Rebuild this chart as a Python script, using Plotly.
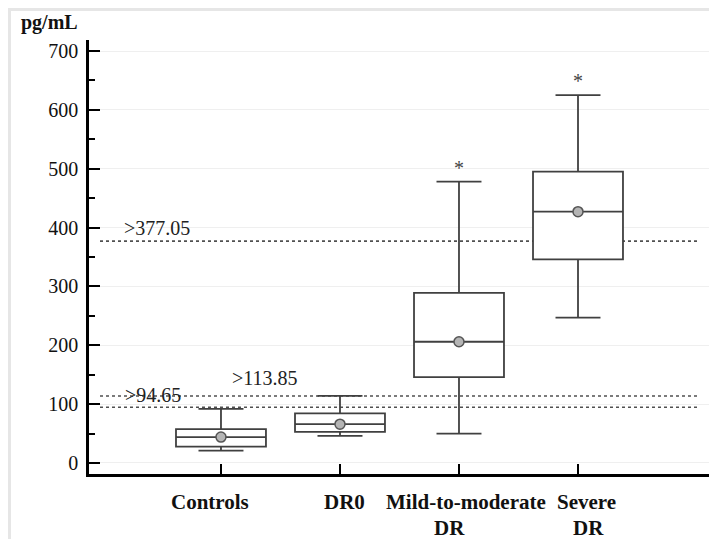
import plotly.graph_objects as go

categories = ["Controls", "DR0", "Mild-to-moderate<br>DR", "Severe<br>DR"]
q1 = [27.7, 53, 146, 346]
median = [44, 66, 206, 427]
q3 = [57.7, 84.4, 289, 495]
lower_whisker = [21, 46, 50, 247]
upper_whisker = [92, 114, 478, 625]
means = [44, 66, 206, 427]
significant = [False, False, True, True]
thresholds = [377.05, 113.85, 94.65]
threshold_labels = [">377.05", ">113.85", ">94.65"]
y_ticks = [0, 100, 200, 300, 400, 500, 600, 700]

# the page body has an 8px margin, so the figure is 8px smaller than the window
OFF = 8
W, H = 717 - OFF, 539 - OFF
L, R, T, B = 89 - OFF, 5, 40 - OFF, 65
pw, ph = W - L - R, H - T - B
SERIF = "Liberation Serif, Times New Roman, serif"

def px_x(px):  # window pixel -> paper
    return (px - OFF - L) / pw

def px_y(py):
    return (H - B - (py - OFF)) / ph

xs = list(range(len(categories)))
line_col = "#404040"

fig = go.Figure()
for i in xs:
    fig.add_trace(go.Box(
        x=[i], q1=[q1[i]], median=[median[i]], q3=[q3[i]],
        lowerfence=[lower_whisker[i]], upperfence=[upper_whisker[i]],
        width=0.756, whiskerwidth=0.5, fillcolor="white",
        line=dict(color=line_col, width=1.8), boxpoints=False,
        showlegend=False, hoverinfo="skip",
    ))

fig.add_trace(go.Scatter(
    x=xs, y=means, mode="markers", showlegend=False,
    marker=dict(size=10, color="#b5b5b5", line=dict(color="#555555", width=1.5)),
))

# threshold dotted lines
for t in thresholds:
    fig.add_shape(type="line", xref="paper", yref="y",
                  x0=px_x(100), x1=px_x(700), y0=t, y1=t,
                  line=dict(color="#505050", width=1.6, dash="dot"), layer="below")

label_cfg = {">377.05": (157, 13), ">113.85": (265, 18), ">94.65": (153, 12)}
for t, lab in zip(thresholds, threshold_labels):
    cx, dy = label_cfg[lab]
    fig.add_annotation(x=px_x(cx), xref="paper", y=t, yref="y", yshift=dy,
                       text=lab, showarrow=False, xanchor="center", yanchor="middle",
                       font=dict(family=SERIF, size=20, color="#222222"))

for i in xs:
    if significant[i]:
        fig.add_annotation(x=i, y=upper_whisker[i], yshift=1, text="*", showarrow=False,
                           xanchor="center", yanchor="bottom",
                           font=dict(family=SERIF, size=20, color="#444444"))

# category labels under the axis (each line placed on its own)
line_xshift = [[-11, 0], [5, 0], [7, -9], [8, 10]]
line_y = [502, 528]
for i in xs:
    for j, part in enumerate(categories[i].split("<br>")):
        fig.add_annotation(x=i, xref="x", y=px_y(line_y[j]), yref="paper",
                           xshift=line_xshift[i][j], text="<b>%s</b>" % part,
                           showarrow=False, xanchor="center", yanchor="middle",
                           font=dict(family=SERIF, size=21, color="#111111"))

fig.add_annotation(x=px_x(50), xref="paper", y=px_y(22), yref="paper", text="<b>pg/mL</b>",
                   showarrow=False, xanchor="center", yanchor="middle",
                   font=dict(family=SERIF, size=20, color="#111111"))

# light grey frame of the picture
fig.add_shape(type="line", xref="paper", yref="paper", x0=px_x(8), x1=px_x(717),
              y0=px_y(9.5), y1=px_y(9.5), line=dict(color="#e6e6e6", width=3))
fig.add_shape(type="line", xref="paper", yref="paper", x0=px_x(9.5), x1=px_x(9.5),
              y0=px_y(8), y1=px_y(539), line=dict(color="#e6e6e6", width=3))

fig.update_layout(
    width=W, height=H, margin=dict(l=L, r=R, t=T, b=B, autoexpand=False),
    plot_bgcolor="white", paper_bgcolor="white",
    font=dict(family=SERIF),
    xaxis=dict(range=[-1.109, 4.126], tickvals=xs, showticklabels=False,
               ticks="inside", ticklen=10, tickwidth=1.5, tickcolor="black",
               showline=True, linecolor="black", linewidth=2.5, showgrid=False,
               zeroline=False, automargin=False),
    yaxis=dict(range=[-18.7, 718.7], tickvals=y_ticks, ticks="inside", ticklen=11,
               tickwidth=2, tickcolor="black", showline=True, linecolor="black",
               linewidth=2.5, showgrid=True, gridcolor="#efefef", gridwidth=1,
               zeroline=False, ticklabelstandoff=4, automargin=False,
               minor=dict(ticks="inside", ticklen=6, dtick=50, tickwidth=1.5,
                          tickcolor="black", showgrid=False),
               tickfont=dict(family=SERIF, size=20, color="#111111")),
)

fig.write_html("out.html")
